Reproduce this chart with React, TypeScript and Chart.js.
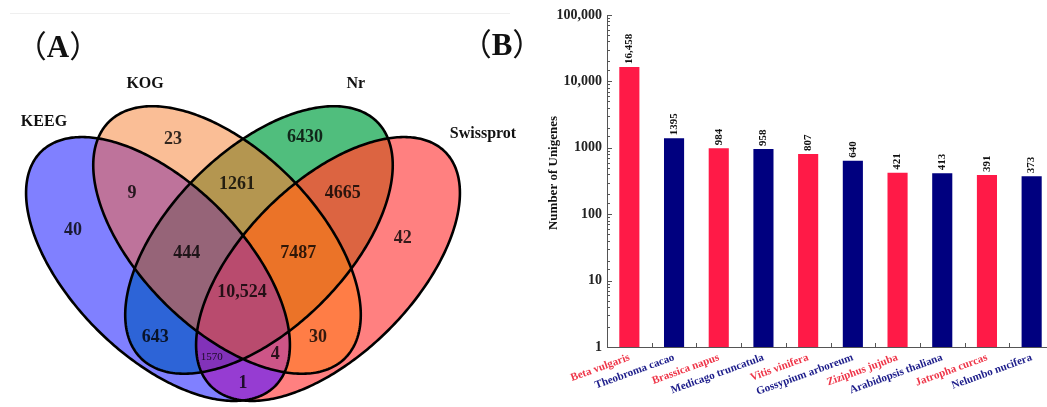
import React, { useEffect, useRef } from 'react';
import { Chart, registerables } from 'chart.js';

Chart.register(...registerables);

// ---------- Panel A: four-set Venn diagram ----------
const setNames = ['KEEG', 'KOG', 'Nr', 'Swissprot'];
// ellipse model in Venn units (y up)
const ellipseCx = [0.3229, 0.4667, 0.5333, 0.6771];
const ellipseCy = [0.4638, 0.5242, 0.5242, 0.4638];
const ellipseA = [0.345, 0.348, 0.348, 0.345];
const ellipseB = [0.179, 0.185, 0.185, 0.179];
const ellipseRot = [-45, -45, 45, 45];

// region membership (bit0 KEEG, bit1 KOG, bit2 Nr, bit3 Swissprot)
const regionMasks = [1, 2, 4, 8, 3, 6, 12, 7, 14, 15, 5, 10, 13, 11, 9];
const regionCounts = ['40', '23', '6430', '42', '9', '1261', '4665', '444', '7487', '10,524', '643', '30', '1570', '4', '1'];

// ---------- Panel B: log bar chart ----------
const categories = [
  'Beta vulgaris',
  'Theobroma cacao',
  'Brassica napus',
  'Medicago truncatula',
  'Vitis vinifera',
  'Gossypium arboreum',
  'Ziziphus jujuba',
  'Arabidopsis thaliana',
  'Jatropha curcas',
  'Nelumbo nucifera',
];
const unigeneCounts = [16458, 1395, 984, 958, 807, 640, 421, 413, 391, 373];
const valueLabels = ['16,458', '1395', '984', '958', '807', '640', '421', '413', '391', '373'];
const yTickValues = [1, 10, 100, 1000, 10000, 100000];
const yTickLabels = ['1', '10', '100', '1000', '10,000', '100,000'];

// ---------- styles / positions ----------
const SERIF = '"Liberation Serif", "Times New Roman", serif';
const regionColors: Record<number, string> = {
  1: 'rgb(128,128,255)',
  2: 'rgb(250,190,150)',
  4: 'rgb(80,190,125)',
  8: 'rgb(255,128,128)',
  3: 'rgb(190,115,155)',
  6: 'rgb(180,150,80)',
  12: 'rgb(220,100,65)',
  7: 'rgb(150,100,120)',
  14: 'rgb(235,115,40)',
  15: 'rgb(185,75,110)',
  5: 'rgb(45,100,215)',
  10: 'rgb(255,125,70)',
  13: 'rgb(130,50,185)',
  11: 'rgb(205,85,135)',
  9: 'rgb(150,60,210)',
};
const regionLabelU = [0.146, 0.354, 0.629, 0.833, 0.269, 0.4875, 0.708, 0.383, 0.615, 0.498, 0.317, 0.656, 0.435, 0.567, 0.5];
const regionLabelV = [0.545, 0.733, 0.737, 0.528, 0.622, 0.641, 0.622, 0.497, 0.497, 0.416, 0.322, 0.322, 0.28, 0.285, 0.226];
const setLabelU = [0.0854, 0.296, 0.735, 1.0];
const setLabelV = [0.77, 0.849, 0.849, 0.745];
const barColors = ['#ff1a47', '#00007f', '#ff1a47', '#00007f', '#ff1a47', '#00007f', '#ff1a47', '#00007f', '#ff1a47', '#00007f'];
const labelColors = ['#ee3548', '#1c1c8a', '#ee3548', '#1c1c8a', '#ee3548', '#1c1c8a', '#ee3548', '#1c1c8a', '#ee3548', '#1c1c8a'];

const vennPlugin = {
  id: 'venn',
  afterDraw(chart: any) {
    const { ctx, width, height } = chart;
    const xs = chart.scales.x;
    const ys = chart.scales.y;
    const makePath = (i: number) => {
      const p = new Path2D();
      const r = (ellipseRot[i] * Math.PI) / 180;
      const N = 360;
      for (let k = 0; k <= N; k++) {
        const t = (k / N) * 2 * Math.PI;
        const ex = ellipseA[i] * Math.cos(t);
        const ey = ellipseB[i] * Math.sin(t);
        const u = ellipseCx[i] + ex * Math.cos(r) - ey * Math.sin(r);
        const v = ellipseCy[i] + ex * Math.sin(r) + ey * Math.cos(r);
        const px = xs.getPixelForValue(u);
        const py = ys.getPixelForValue(v);
        if (k === 0) p.moveTo(px, py);
        else p.lineTo(px, py);
      }
      p.closePath();
      return p;
    };
    const paths = [0, 1, 2, 3].map(makePath);
    regionMasks.forEach((m) => {
      ctx.save();
      for (let i = 0; i < 4; i++) {
        if (m & (1 << i)) {
          ctx.clip(paths[i]);
        } else {
          const q = new Path2D();
          q.rect(-10, -10, width + 20, height + 20);
          q.addPath(paths[i]);
          ctx.clip(q, 'evenodd');
        }
      }
      ctx.fillStyle = regionColors[m];
      ctx.fillRect(0, 0, width, height);
      ctx.restore();
    });
    ctx.save();
    ctx.lineWidth = 2.6;
    ctx.strokeStyle = '#000';
    paths.forEach((p) => ctx.stroke(p));
    ctx.restore();

    ctx.save();
    ctx.textAlign = 'center';
    ctx.textBaseline = 'middle';
    ctx.fillStyle = 'rgba(0,0,0,0.8)';
    regionCounts.forEach((txt, i) => {
      ctx.font = txt === '1570' ? `11px ${SERIF}` : `bold 18px ${SERIF}`;
      ctx.fillText(txt, xs.getPixelForValue(regionLabelU[i]), ys.getPixelForValue(regionLabelV[i]));
    });
    ctx.fillStyle = '#111';
    ctx.font = `bold 16px ${SERIF}`;
    setNames.forEach((name, i) => {
      ctx.fillText(name, xs.getPixelForValue(setLabelU[i]), ys.getPixelForValue(setLabelV[i]));
    });
    ctx.restore();
  },
};

const barDecor = {
  id: 'barDecor',
  afterDraw(chart: any) {
    const { ctx, chartArea: ca } = chart;
    const xs = chart.scales.x;
    const ys = chart.scales.y;
    ctx.save();
    ctx.strokeStyle = '#555';
    ctx.lineWidth = 1;
    ctx.beginPath();
    ctx.moveTo(ca.left + 0.5, ca.top);
    ctx.lineTo(ca.left + 0.5, ca.bottom + 0.5);
    ctx.lineTo(ca.right, ca.bottom + 0.5);
    ctx.stroke();
    ys.ticks.forEach((t: any) => {
      const lg = Math.log10(t.value);
      const major = Math.abs(lg - Math.round(lg)) < 1e-9;
      const py = Math.round(ys.getPixelForValue(t.value)) + 0.5;
      ctx.beginPath();
      ctx.moveTo(ca.left, py);
      ctx.lineTo(ca.left + (major ? 5 : 3), py);
      ctx.stroke();
    });
    for (let i = 1; i < categories.length; i++) {
      const px = Math.round((xs.getPixelForValue(i - 1) + xs.getPixelForValue(i)) / 2) + 0.5;
      ctx.beginPath();
      ctx.moveTo(px, ca.bottom);
      ctx.lineTo(px, ca.bottom - 4);
      ctx.stroke();
    }
    const meta = chart.getDatasetMeta(0);
    ctx.fillStyle = '#111';
    ctx.font = `bold 11px ${SERIF}`;
    meta.data.forEach((bar: any, i: number) => {
      ctx.save();
      ctx.translate(bar.x, bar.y - 3);
      ctx.rotate(-Math.PI / 2);
      ctx.textAlign = 'left';
      ctx.textBaseline = 'middle';
      ctx.fillText(valueLabels[i], 0, 0);
      ctx.restore();
    });
    ctx.save();
    ctx.translate(ca.left - 53, (ca.top + ca.bottom) / 2 - 8);
    ctx.rotate(-Math.PI / 2);
    ctx.textAlign = 'center';
    ctx.textBaseline = 'middle';
    ctx.font = `bold 13px ${SERIF}`;
    ctx.fillStyle = '#111';
    ctx.fillText('Number of Unigenes', 0, 0);
    ctx.restore();
    ctx.restore();
  },
};

export default function App() {
  const vennRef = useRef<HTMLCanvasElement>(null);
  const barRef = useRef<HTMLCanvasElement>(null);

  useEffect(() => {
    const venn = new Chart(vennRef.current as HTMLCanvasElement, {
      type: 'scatter',
      data: { datasets: [] },
      options: {
        animation: false,
        responsive: false,
        layout: { padding: 0 },
        plugins: { legend: { display: false }, tooltip: { enabled: false } },
        scales: {
          x: { type: 'linear', min: -0.00625, max: 1.0771, display: false },
          y: { type: 'linear', min: 0.17625, max: 1.02417, display: false },
        },
      },
      plugins: [vennPlugin],
    } as any);

    const bars = new Chart(barRef.current as HTMLCanvasElement, {
      type: 'bar',
      data: {
        labels: categories,
        datasets: [
          {
            data: unigeneCounts,
            backgroundColor: barColors,
            borderWidth: 0,
            categoryPercentage: 1,
            barPercentage: 0.45,
          },
        ],
      },
      options: {
        animation: false,
        responsive: false,
        layout: { padding: { top: 15, right: 6, left: 0, bottom: 0 } },
        plugins: { legend: { display: false }, tooltip: { enabled: false } },
        scales: {
          x: {
            grid: { display: false, drawTicks: false },
            border: { display: false },
            afterFit: (s: any) => {
              s.height = 60;
            },
            ticks: {
              autoSkip: false,
              minRotation: 20,
              maxRotation: 20,
              padding: 4,
              color: (c: any) => labelColors[c.index],
              font: { family: SERIF, size: 11, weight: 'bold' },
            },
          },
          y: {
            type: 'logarithmic',
            min: 1,
            max: 100000,
            grid: { display: false, drawTicks: false },
            border: { display: false },
            afterFit: (s: any) => {
              s.width = 87;
            },
            ticks: {
              autoSkip: false,
              padding: 5,
              color: '#222',
              font: { family: SERIF, size: 14, weight: 'bold' },
              callback: (v: any) => {
                const idx = yTickValues.indexOf(Number(v));
                return idx >= 0 ? yTickLabels[idx] : '';
              },
            },
          },
        },
      },
      plugins: [barDecor],
    } as any);

    return () => {
      venn.destroy();
      bars.destroy();
    };
  }, []);

  const panelStyle: React.CSSProperties = {
    position: 'absolute',
    top: 27,
    width: 110,
    height: 40,
    lineHeight: '40px',
    textAlign: 'center',
    fontFamily: '"Liberation Serif", "Noto Sans CJK SC", serif',
    fontSize: 31,
    color: '#111',
    whiteSpace: 'nowrap',
  };

  return (
    <div style={{ position: 'absolute', left: 0, top: 0, width: 1047, height: 407, overflow: 'hidden', background: '#fff' }}>
      <div style={{ position: 'absolute', left: 10, top: 13, width: 500, height: 1, background: '#efefef' }} />
      <canvas ref={vennRef} width={520} height={407} style={{ position: 'absolute', left: 0, top: 0, width: 520, height: 407 }} />
      <canvas ref={barRef} width={540} height={407} style={{ position: 'absolute', left: 520, top: 0, width: 540, height: 407 }} />
      <div style={{ ...panelStyle, left: 3 }}>
        <span>（</span>
        <b>A</b>
        <span>）</span>
      </div>
      <div style={{ ...panelStyle, left: 447, top: 25 }}>
        <span>（</span>
        <b>B</b>
        <span>）</span>
      </div>
    </div>
  );
}
